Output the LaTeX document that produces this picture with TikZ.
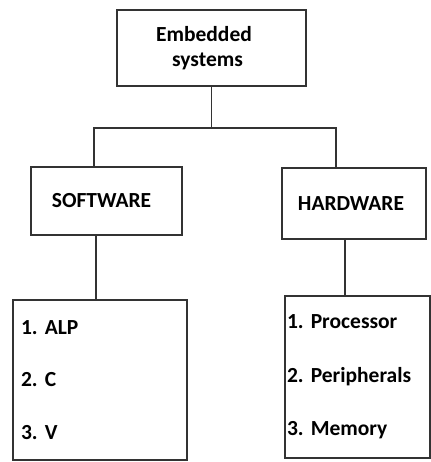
\documentclass[tikz,border=0pt]{standalone}
\usepackage{fontspec}
\setmainfont{Carlito}
\usepackage{tikz}
\usetikzlibrary{positioning}
\frenchspacing

\begin{document}
\begin{tikzpicture}[x=1pt, y=-1pt,
    box/.style={draw=black!80, line width=1.5pt, rectangle, inner sep=0pt,
        font=\fontsize{21.5}{26}\selectfont\bfseries},
    link/.style={draw=black!80, line width=1.5pt}]
    \useasboundingbox (0,0) rectangle (430,462);

    % Top level
    \node[box, minimum width=189pt, minimum height=76pt, align=center] (emb) at (211.5,48)
        {\hspace*{-15pt}Embedded\\[-1pt]\hspace*{-8pt}systems};

    % Second level
    \node[box, minimum width=151pt, minimum height=68pt] (sw) at (106.5,201) {\hspace*{-10pt}SOFTWARE};
    \node[box, minimum width=144pt, minimum height=71pt] (hw) at (354,203.5) {\hspace*{-6pt}HARDWARE};

    % Lists
    \node[box, minimum width=174pt, minimum height=160pt, text width=158pt, inner xsep=8pt,
        align=left] (swlist) at (100,380) {1. ALP\\[26.5pt]2. C\\[26.5pt]3. V};
    \node[box, minimum width=145pt, minimum height=162pt, text width=141pt, inner xsep=2pt,
        align=left] (hwlist) at (357.5,377) {1. Processor\\[27.5pt]2. Peripherals\\[27.5pt]3. Memory};

    % Connectors
    \coordinate (jl) at (94,128);
    \coordinate (jr) at (336,128);
    \draw[link] (emb.south) -- (emb.south |- jl);
    \draw[link] (sw.north -| jl) -- (jl) -- (jr) -- (hw.north -| jr);
    \draw[link] ([xshift=-10.5pt]sw.south) -- ([xshift=-10.5pt]sw.south |- swlist.north);
    \draw[link] ([xshift=-9pt]hw.south) -- ([xshift=-9pt]hw.south |- hwlist.north);
\end{tikzpicture}
\end{document}
